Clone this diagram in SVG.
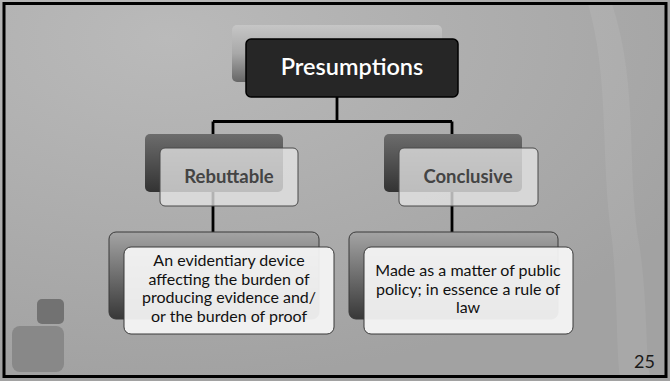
<svg xmlns="http://www.w3.org/2000/svg" width="670" height="381" viewBox="0 0 670 381">
<defs>
<radialGradient id="bg" cx="0.25" cy="0.1" r="0.9">
<stop offset="0" stop-color="#bababa"/>
<stop offset="1" stop-color="#a2a2a2"/>
</radialGradient>
<linearGradient id="gTop" x1="0" y1="0" x2="0" y2="1">
<stop offset="0" stop-color="#c6c6c6"/>
<stop offset="0.5" stop-color="#a8a8a8"/>
<stop offset="1" stop-color="#666"/>
</linearGradient>
<linearGradient id="gMid" x1="0" y1="0" x2="0" y2="1">
<stop offset="0" stop-color="#6c6c6c"/>
<stop offset="1" stop-color="#333"/>
</linearGradient>
<linearGradient id="gLeaf" x1="0" y1="0" x2="0" y2="1">
<stop offset="0" stop-color="#a4a4a4"/>
<stop offset="1" stop-color="#383838"/>
</linearGradient>
</defs>
<style>
.conn{fill:none;stroke:#000;stroke-width:2.8}
.back-mid{fill:url(#gMid)}
.front-mid{fill:#e4e4e4;fill-opacity:0.78;stroke:#4a4a4a;stroke-width:1}
.back-leaf{fill:url(#gLeaf);stroke:#3a3a3a;stroke-width:1}
.front-leaf{fill:#f6f6f6;fill-opacity:0.93;stroke:#3a3a3a;stroke-width:1}
.t{font-family:Lato,"Liberation Sans",sans-serif;text-anchor:middle}
.mid{font-size:18.5px;font-weight:bold;fill:#444}
.leaf{font-size:16px;fill:#111}
</style>
<rect x="0" y="0" width="670" height="381" fill="url(#bg)"/>
<path d="M588,4 C610,80 600,160 612,240 C618,300 616,350 620,377 L664,377 L664,4 Z" fill="#ffffff" fill-opacity="0.07"/>
<path d="M612,4 C640,90 625,170 640,250 C648,310 645,350 650,377 L664,377 L664,4 Z" fill="#000" fill-opacity="0.03"/>
<rect x="4" y="3.5" width="662" height="373" fill="none" stroke="#000" stroke-width="3"/>
<g id="logo">
<rect x="37" y="299" width="27" height="25" rx="5" fill="#727272"/>
<rect x="12" y="326" width="52" height="46" rx="8" fill="#888888"/>
</g>
<g id="connectors">
<path class="conn" d="M337,97 V121.5 M213,121.5 H452 M213,121.5 V232 M452,121.5 V232"/>
</g>
<g id="presumptions">
<rect x="232" y="25" width="210" height="57" rx="5" fill="url(#gTop)"/>
<rect x="246" y="39" width="212" height="58" rx="5" fill="#262626" stroke="#000" stroke-width="1.5"/>
<text class="t" x="352" y="75" font-size="23.5" font-weight="600" fill="#fff">Presumptions</text>
</g>
<g id="rebuttable">
<rect class="back-mid" x="145" y="134" width="138" height="58" rx="5"/>
<rect class="front-mid" x="160" y="148" width="138" height="58" rx="5"/>
<text class="t mid" x="229" y="183">Rebuttable</text>
</g>
<g id="conclusive">
<rect class="back-mid" x="384" y="134" width="138" height="58" rx="5"/>
<rect class="front-mid" x="399" y="148" width="139" height="58" rx="5"/>
<text class="t mid" x="468" y="183">Conclusive</text>
</g>
<g id="rebuttable-desc">
<rect class="back-leaf" x="109" y="232" width="210" height="87" rx="7"/>
<rect class="front-leaf" x="124" y="247" width="210" height="87" rx="7"/>
<text class="t leaf" x="229" y="266">An evidentiary device</text>
<text class="t leaf" x="229" y="284.5">affecting the burden of</text>
<text class="t leaf" x="229" y="303">producing evidence and/</text>
<text class="t leaf" x="229" y="321.5">or the burden of proof</text>
</g>
<g id="conclusive-desc">
<rect class="back-leaf" x="349" y="232" width="209" height="87" rx="7"/>
<rect class="front-leaf" x="364" y="247" width="209" height="87" rx="7"/>
<text class="t leaf" x="468" y="276">Made as a matter of public</text>
<text class="t leaf" x="468" y="294.5">policy; in essence a rule of</text>
<text class="t leaf" x="468" y="313">law</text>
</g>
<text x="655" y="368" font-family="Lato,'Liberation Sans',sans-serif" font-size="18" fill="#1a1a1a" text-anchor="end">25</text>
</svg>
